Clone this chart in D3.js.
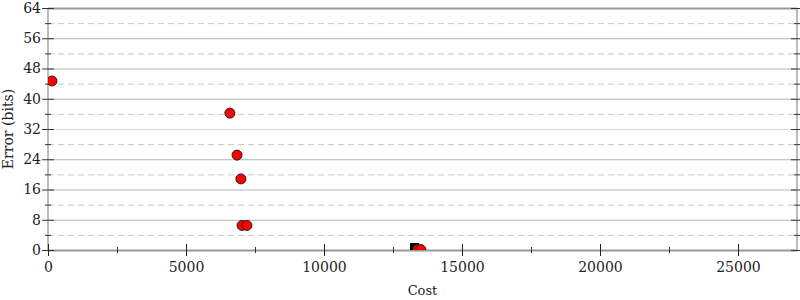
<!DOCTYPE html>
<html>
<head>
<meta charset="utf-8">
<script src="https://cdn.jsdelivr.net/npm/d3@7"></script>
<style>
  body { margin: 0; background: #fff; }
  text { font-family: "DejaVu Serif", serif; fill: #222; }
</style>
</head>
<body>
<script>
// points
var costs = [145, 6590, 6850, 6990, 7030, 7210, 13400, 13510];
var errors = [44.7, 36.2, 25.1, 18.8, 6.5, 6.5, 0.1, 0.1];
// the black square (initial program)
var startCost = [13280];
var startError = [0];

var xTicks = [0, 5000, 10000, 15000, 20000, 25000];
var yTicks = [0, 8, 16, 24, 32, 40, 48, 56, 64];

var width = 800;
var height = 300;
var margin = { top: 8, right: 3, bottom: 50, left: 48 };

var svg = d3.select("body")
  .append("svg")
  .attr("width", width)
  .attr("height", height);

var x = d3.scaleLinear()
  .domain([0, 27140])
  .range([margin.left, width - margin.right]);

var y = d3.scaleLinear()
  .domain([0, 64])
  .range([height - margin.bottom, margin.top]);

svg.append("clipPath")
  .attr("id", "plot")
  .append("rect")
  .attr("x", margin.left)
  .attr("y", margin.top)
  .attr("width", width - margin.right - margin.left)
  .attr("height", height - margin.bottom - margin.top);

// minor grid (dashed)
var minor = d3.range(4, 64, 8);
svg.append("g")
  .selectAll("line")
  .data(minor)
  .enter()
  .append("line")
  .attr("x1", margin.left)
  .attr("x2", width - margin.right)
  .attr("y1", function(d) { return y(d) + 0.5; })
  .attr("y2", function(d) { return y(d) + 0.5; })
  .attr("stroke", "#c8c8c8")
  .attr("stroke-dasharray", "6,4");

// major grid
svg.append("g")
  .selectAll("line")
  .data(yTicks.slice(1, -1))
  .enter()
  .append("line")
  .attr("x1", margin.left)
  .attr("x2", width - margin.right)
  .attr("y1", function(d) { return y(d) + 0.5; })
  .attr("y2", function(d) { return y(d) + 0.5; })
  .attr("stroke", function(d) { return d === 32 ? "#dcdcdc" : "#b4b4b4"; });

// frame
svg.append("line")
  .attr("x1", margin.left).attr("x2", width - margin.right)
  .attr("y1", y(64) + 0.5).attr("y2", y(64) + 0.5)
  .attr("stroke", "#999").attr("stroke-width", 2);
svg.append("line")
  .attr("x1", margin.left).attr("x2", width - margin.right)
  .attr("y1", y(0) + 0.5).attr("y2", y(0) + 0.5)
  .attr("stroke", "#999").attr("stroke-width", 2);
svg.append("line")
  .attr("x1", margin.left).attr("x2", margin.left)
  .attr("y1", y(64)).attr("y2", y(0))
  .attr("stroke", "#bbb").attr("stroke-width", 2);
svg.append("line")
  .attr("x1", width - margin.right).attr("x2", width - margin.right)
  .attr("y1", y(64)).attr("y2", y(0))
  .attr("stroke", "#bbb").attr("stroke-width", 2);

// left axis
var yAxis = d3.axisLeft(y).tickValues(yTicks).tickSize(0).tickPadding(7);
svg.append("g")
  .attr("transform", "translate(" + margin.left + ",0)")
  .call(yAxis)
  .call(function(g) {
    g.select(".domain").remove();
    g.attr("font-family", "DejaVu Serif").attr("font-size", 14);
  });

// y ticks on both sides
var sides = [margin.left, width - margin.right];
sides.forEach(function(sx) {
  svg.append("g")
    .selectAll("line.maj")
    .data(yTicks)
    .enter()
    .append("line")
    .attr("x1", sx - 6).attr("x2", sx + 6)
    .attr("y1", function(d) { return y(d) + 0.5; })
    .attr("y2", function(d) { return y(d) + 0.5; })
    .attr("stroke", "#333");
  svg.append("g")
    .selectAll("line.min")
    .data(minor)
    .enter()
    .append("line")
    .attr("x1", sx - 3).attr("x2", sx + 3)
    .attr("y1", function(d) { return y(d) + 0.5; })
    .attr("y2", function(d) { return y(d) + 0.5; })
    .attr("stroke", "#333");
});

// bottom axis
var xAxis = d3.axisBottom(x).tickValues(xTicks).tickSize(0).tickPadding(12).tickFormat(d3.format("d"));
svg.append("g")
  .attr("transform", "translate(0," + y(0) + ")")
  .call(xAxis)
  .call(function(g) {
    g.select(".domain").remove();
    g.attr("font-family", "DejaVu Serif").attr("font-size", 14);
  });

svg.append("g")
  .selectAll("line")
  .data(xTicks)
  .enter()
  .append("line")
  .attr("x1", function(d) { return Math.round(x(d)) + 0.5; })
  .attr("x2", function(d) { return Math.round(x(d)) + 0.5; })
  .attr("y1", y(0) - 6).attr("y2", y(0) + 6)
  .attr("stroke", "#222");

svg.append("g")
  .selectAll("line")
  .data(d3.range(2500, 27140, 5000))
  .enter()
  .append("line")
  .attr("x1", function(d) { return Math.round(x(d)) + 0.5; })
  .attr("x2", function(d) { return Math.round(x(d)) + 0.5; })
  .attr("y1", y(0) - 3).attr("y2", y(0) + 3)
  .attr("stroke", "#333");

// marks
var marks = svg.append("g").attr("clip-path", "url(#plot)");

marks.selectAll("rect")
  .data(startCost)
  .enter()
  .append("rect")
  .attr("x", function(d) { return x(d) - 4.5; })
  .attr("y", function(d, i) { return y(startError[i]) - 7; })
  .attr("width", 9)
  .attr("height", 14)
  .attr("fill", "#000");

marks.selectAll("circle")
  .data(costs)
  .enter()
  .append("circle")
  .attr("cx", function(d) { return x(d); })
  .attr("cy", function(d, i) { return y(errors[i]); })
  .attr("r", 5)
  .attr("fill", "#f00")
  .attr("stroke", "#222")
  .attr("stroke-width", 1);

// labels
svg.append("text")
  .attr("x", (margin.left + width - margin.right) / 2)
  .attr("y", 295)
  .attr("text-anchor", "middle")
  .style("font-size", "13px")
  .text("Cost");

svg.append("text")
  .attr("transform", "translate(13," + (margin.top + (height - margin.bottom - margin.top) / 2) + ") rotate(-90)")
  .attr("text-anchor", "middle")
  .style("font-size", "14px")
  .text("Error (bits)");
</script>
</body>
</html>
